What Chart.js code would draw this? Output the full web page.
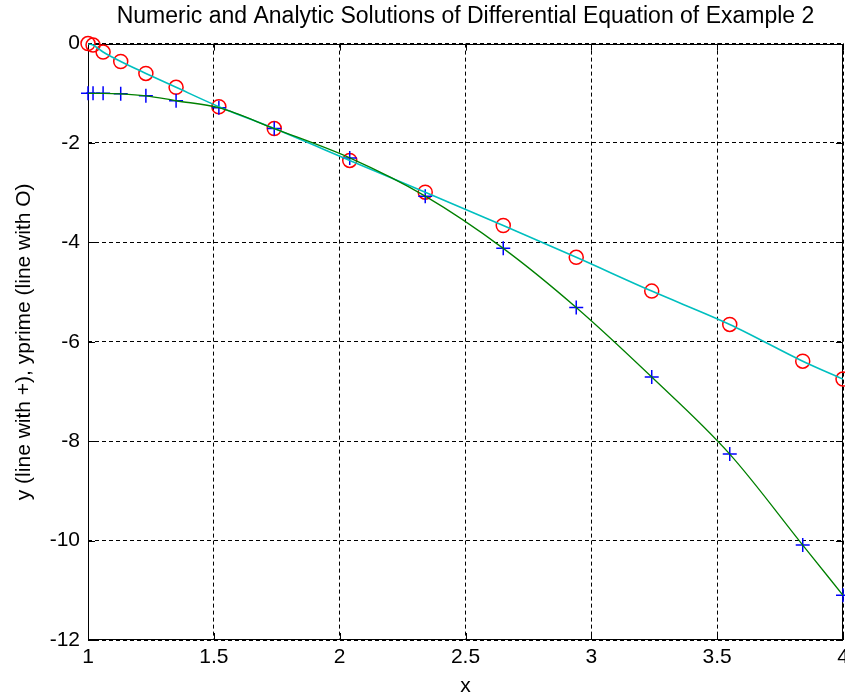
<!DOCTYPE html>
<html>
<head>
<meta charset="utf-8">
<script src="https://cdn.jsdelivr.net/npm/chart.js@4.4.1/dist/chart.umd.min.js"></script>
<style>
    html, body { margin: 0; padding: 0; background: #ffffff; }
    #wrap { width: 845px; height: 699px; }
</style>
</head>
<body>
<div id="wrap"><canvas id="myChart" width="845" height="699"></canvas></div>
<script>
// x steps of the numeric solver
const xSteps = [1, 1.02, 1.06, 1.13, 1.23, 1.35, 1.52, 1.74, 2.04, 2.34, 2.65, 2.94, 3.24, 3.55, 3.84, 4];
// y (marked with +)
const yValues = [-1, -1, -1, -1.01, -1.05, -1.15, -1.29, -1.71, -2.3, -3.07, -4.12, -5.31, -6.71, -8.26, -10.09, -11.1];
// yprime (marked with O)
const yPrimeValues = [0, -0.03, -0.17, -0.36, -0.6, -0.88, -1.27, -1.71, -2.35, -2.99, -3.66, -4.3, -4.98, -5.65, -6.39, -6.75];

const xTicks = [1, 1.5, 2, 2.5, 3, 3.5, 4];
const yTicks = [0, -2, -4, -6, -8, -10, -12];

const titleText = 'Numeric and Analytic Solutions of Differential Equation of Example 2';
const xLabel = 'x';
const yLabel = 'y (line with +), yprime (line with O)';

function toPoints(xs, ys) {
    return xs.map(function (x, i) { return { x: x, y: ys[i] }; });
}

const fontFamily = '"Liberation Sans", Arial, sans-serif';

// box round the plot, the small inward ticks and the x tick labels
// (drawn here so the last label may run off the canvas like the original)
const boxPlugin = {
    id: 'box',
    beforeDatasetsDraw(chart) {
        const a = chart.chartArea;
        const c = chart.ctx;
        c.save();
        c.strokeStyle = '#000000';
        c.lineWidth = 1;
        c.setLineDash([]);
        c.strokeRect(Math.round(a.left) + 0.5, Math.round(a.top) + 0.5,
            Math.round(a.right - a.left) - 1, Math.round(a.bottom - a.top) - 1);
        const len = 7;
        c.beginPath();
        xTicks.forEach(function (v) {
            const px = Math.round(chart.scales.x.getPixelForValue(v)) + 0.5;
            c.moveTo(px, a.bottom); c.lineTo(px, a.bottom - len);
            c.moveTo(px, a.top); c.lineTo(px, a.top + len);
        });
        yTicks.forEach(function (v) {
            const py = Math.round(chart.scales.y.getPixelForValue(v)) + 0.5;
            c.moveTo(a.left, py); c.lineTo(a.left + len, py);
            c.moveTo(a.right, py); c.lineTo(a.right - len, py);
        });
        c.stroke();

        c.fillStyle = '#000000';
        c.font = '21px ' + fontFamily;
        c.textAlign = 'center';
        c.textBaseline = 'middle';
        xTicks.forEach(function (v) {
            c.fillText(String(v), chart.scales.x.getPixelForValue(v), a.bottom + 17);
        });
        c.restore();
    }
};

const ctx = document.getElementById('myChart');

let cfg = {
    type: 'scatter',
    data: {
        datasets: [
            {
                label: 'y',
                data: toPoints(xSteps, yValues),
                showLine: false,
                pointStyle: 'cross',
                pointRadius: 7,
                pointBorderColor: '#0000ff',
                pointBorderWidth: 1.5,
                clip: false,
                order: 3
            },
            {
                label: 'yprime',
                data: toPoints(xSteps, yPrimeValues),
                showLine: false,
                pointStyle: 'circle',
                pointRadius: 7,
                pointBorderColor: '#ff0000',
                pointBackgroundColor: 'rgba(0,0,0,0)',
                pointBorderWidth: 1.5,
                clip: false,
                order: 4
            },
            {
                label: 'y analytic',
                data: toPoints(xSteps, yValues),
                showLine: true,
                borderColor: '#008000',
                borderWidth: 1.3,
                pointRadius: 0,
                cubicInterpolationMode: 'monotone',
                order: 1
            },
            {
                label: 'yprime analytic',
                data: toPoints(xSteps, yPrimeValues),
                showLine: true,
                borderColor: '#00bfbf',
                borderWidth: 1.6,
                pointRadius: 0,
                cubicInterpolationMode: 'monotone',
                order: 2
            }
        ]
    },
    options: {
        responsive: false,
        animation: false,
        layout: { autoPadding: false, padding: { left: 0, right: 2, top: 0, bottom: 0 } },
        plugins: {
            legend: { display: false },
            tooltip: { enabled: false },
            title: {
                display: true,
                text: titleText,
                fullSize: false,
                color: '#000000',
                font: { family: fontFamily, size: 23, weight: 'normal' },
                padding: { top: 3, bottom: 13 }
            }
        },
        scales: {
            x: {
                type: 'linear',
                min: 1,
                max: 4,
                afterBuildTicks: function (scale) {
                    scale.ticks = xTicks.map(function (v) { return { value: v }; });
                },
                afterFit: function (scale) { scale.height = 59; },
                ticks: { display: false },
                grid: {
                    color: '#000000',
                    lineWidth: 1,
                    tickLength: 0,
                    drawTicks: false
                },
                border: { display: false, dash: [4, 3] },
                title: {
                    display: true,
                    text: xLabel,
                    color: '#000000',
                    font: { family: fontFamily, size: 21 },
                    padding: { top: 2, bottom: 0 }
                }
            },
            y: {
                type: 'linear',
                min: -12,
                max: 0,
                afterBuildTicks: function (scale) {
                    scale.ticks = yTicks.map(function (v) { return { value: v }; });
                },
                afterFit: function (scale) {
                    scale.width = 88;
                    scale.paddingTop = 0;
                    scale.paddingBottom = 0;
                },
                ticks: {
                    color: '#000000',
                    font: { family: fontFamily, size: 21 },
                    padding: 8,
                    callback: function (value) { return String(value); }
                },
                grid: {
                    color: '#000000',
                    lineWidth: 1,
                    tickLength: 0,
                    drawTicks: false
                },
                border: { display: false, dash: [4, 3] },
                title: {
                    display: true,
                    text: yLabel,
                    color: '#000000',
                    font: { family: fontFamily, size: 21 },
                    padding: { top: 12, bottom: 0 }
                }
            }
        }
    },
    plugins: [boxPlugin]
};

let myChart = new Chart(ctx, cfg);
</script>
</body>
</html>
